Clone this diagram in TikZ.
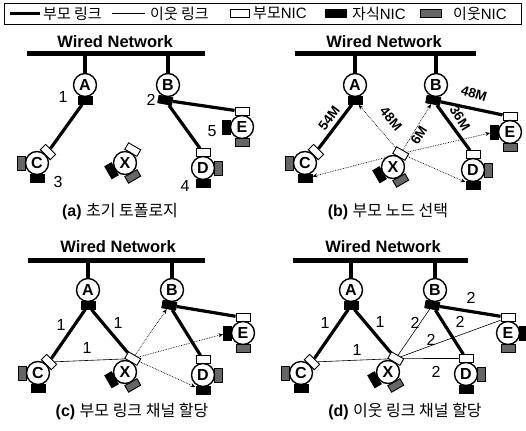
\documentclass[tikz,border=0pt]{standalone}
\usepackage{fontspec}
\setmainfont{Liberation Sans}
\newfontfamily\kr{Noto Sans CJK KR}
\usetikzlibrary{calc,arrows.meta}
\pgfdeclarelayer{bg}
\pgfsetlayers{bg,main}
\tikzset{
 nd/.style={circle,draw,line width=1.4pt,fill=white,minimum size=23pt,inner sep=0pt,font=\bfseries\fontsize{16}{16}\selectfont},
 nicw/.style={rectangle,draw,line width=0.9pt,fill=white,minimum width=14pt,minimum height=7.5pt,inner sep=0pt},
 nicb/.style={nicw,fill=black},
 nicg/.style={nicw,fill=black!60},
 bus/.style={line width=5pt},
 stem/.style={line width=3.5pt},
 plink/.style={line width=3.2pt},
 nlink/.style={line width=0.6pt},
 darr/.style={densely dotted,line width=0.7pt,-{Stealth[length=5pt,width=4pt]}},
 ttl/.style={font=\bfseries\fontsize{16.5}{16.5}\selectfont},
 num/.style={font=\fontsize{16}{16}\selectfont,inner sep=0pt},
 rate/.style={font=\bfseries\fontsize{13.5}{13.5}\selectfont,inner sep=0pt},
 captxt/.style={font=\fontsize{16}{16}\selectfont},
 leg/.style={anchor=west,font=\kr\fontsize{15}{15}\selectfont,inner sep=0pt},
}
\newcommand\nic[4]{\node[#4,rotate=#3-90] (#1) at ($(#2)+(#3:15.5pt)$) {};}
\newcommand\netnode[7]{%
 \coordinate (#1c) at (#2,#3);
 \nic{#1p}{#1c}{#5}{nicw}
 \nic{#1k}{#1c}{#6}{nicb}
 \nic{#1n}{#1c}{#7}{nicg}
 \node[nd] (#1) at (#1c) {#4};}
\newcommand\apnode[5]{%
 \coordinate (#1c) at (#2,#3);
 \nic{#1k}{#1c}{#5}{nicb}
 \node[nd] (#1) at (#1c) {#4};}
\begin{document}
\begin{tikzpicture}[x=1pt,y=-1pt]
\path[use as bounding box] (0,0) rectangle (526,430);
% legend
\draw[line width=0.9pt] (4,3) rectangle (521,24);
\coordinate (lg1a) at (10,13.5); \coordinate (lg1b) at (40,13.5);
\draw[plink] (lg1a) -- (lg1b);
\node[leg] (lgt1) at (43,13.5) {부모 링크};
\coordinate (lg2a) at (112,13.5); \coordinate (lg2b) at (145,13.5);
\draw[line width=1pt] (lg2a) -- (lg2b);
\node[leg] (lgt2) at (150,13.5) {이웃 링크};
\node[nicw,minimum width=19pt] (lgw) at (240,13.5) {};
\node[leg] (lgt3) at (253,13.5) {부모\rmfamily NIC};
\node[nicb,minimum width=21pt] (lgb) at (336,13.5) {};
\node[leg] (lgt4) at (352,13.5) {자식\rmfamily NIC};
\node[nicg,minimum width=21pt] (lgg) at (431,13.5) {};
\node[leg] (lgt5) at (453,13.5) {이웃\rmfamily NIC};

% ---------- panel a
\coordinate (aL) at (27,54); \coordinate (aR) at (205,54);
\node[ttl] (aT) at (115,42) {Wired Network};
\apnode{aA}{85}{85}{A}{-90}
\apnode{aB}{168}{85}{B}{-100}
\netnode{aC}{37}{163}{C}{45}{-90}{180}
\netnode{aX}{125}{163}{X}{60}{210}{-60}
\netnode{aD}{203}{168}{D}{90}{-90}{0}
\netnode{aE}{242}{127}{E}{90}{180}{-90}
\node[num] (a1) at (63,97) {1};
\node[num] (a2) at (151,100) {2};
\node[num] (a3) at (58,182) {3};
\node[num] (a4) at (185,186) {4};
\node[num] (a5) at (212,131) {5};
\node[captxt] (acap) at (120,212) {\bfseries (a) \mdseries\kr 초기 토폴로지};

% ---------- panel b
\coordinate (bL) at (295,54); \coordinate (bR) at (476,54);
\node[ttl] (bT) at (384,42) {Wired Network};
\apnode{bA}{355}{85}{A}{-90}
\apnode{bB}{436}{85}{B}{-100}
\netnode{bC}{305}{163}{C}{45}{-90}{180}
\netnode{bX}{393}{167}{X}{60}{210}{-60}
\netnode{bD}{473}{170}{D}{90}{-90}{0}
\netnode{bE}{510}{132}{E}{90}{180}{-90}
\node[rate,rotate=53] (b54) at (329,118) {54M};
\node[rate,rotate=-50] (b48a) at (391,119) {48M};
\node[rate,rotate=58] (b6) at (419,135) {6M};
\node[rate,rotate=-58] (b36) at (460,118) {36M};
\node[rate,rotate=-17] (b48b) at (474,94) {48M};
\node[captxt] (bcap) at (388,212) {\bfseries (b) \mdseries\kr 부모 노드 선택};

% ---------- panel c
\coordinate (cL) at (28,260); \coordinate (cR) at (205,260);
\node[ttl] (cT) at (118,247) {Wired Network};
\apnode{cA}{88}{290}{A}{-90}
\apnode{cB}{172}{290}{B}{-100}
\netnode{cC}{38}{373}{C}{45}{-90}{180}
\netnode{cX}{125}{372}{X}{60}{210}{-60}
\netnode{cD}{203}{375}{D}{90}{-90}{0}
\netnode{cE}{243}{333}{E}{90}{180}{-90}
\node[num] (c1a) at (61,325) {1};
\node[num] (c1b) at (118,323) {1};
\node[num] (c1c) at (87,348) {1};
\node[captxt] (ccap) at (132,411) {\bfseries (c) \mdseries\kr 부모 링크 채널 할당};

% ---------- panel d
\coordinate (dL) at (293,260); \coordinate (dR) at (468,260);
\node[ttl] (dT) at (383,247) {Wired Network};
\apnode{dA}{351}{290}{A}{-90}
\apnode{dB}{435}{290}{B}{-100}
\netnode{dC}{301}{373}{C}{45}{-90}{180}
\netnode{dX}{388}{372}{X}{60}{210}{-60}
\netnode{dD}{466}{374}{D}{90}{-90}{0}
\netnode{dE}{508}{333}{E}{90}{0}{-90}
\node[num] (d1a) at (325,323) {1};
\node[num] (d1b) at (380,322) {1};
\node[num] (d1c) at (357,350) {1};
\node[num] (d2a) at (415,323) {2};
\node[num] (d2b) at (431,340) {2};
\node[num] (d2c) at (436,372) {2};
\node[num] (d2d) at (460,322) {2};
\node[num] (d2e) at (471,298) {2};
\node[captxt] (dcap) at (405,411) {\bfseries (d) \mdseries\kr 이웃 링크 채널 할당};

\begin{pgfonlayer}{bg}
 \foreach \p in {a,b,c,d}{
  \draw[bus] (\p L) -- (\p R);
  \draw[stem] (\p A) -- (\p A |- \p L);
  \draw[stem] (\p B) -- (\p B |- \p L);
  \draw[plink] (\p Bk) -- (\p Dp);
  \draw[plink] (\p Bk) -- (\p Ep);
  \draw[plink] (\p Ak) -- (\p Cp);
 }
 % b
 \draw[darr] (bXp) -- (bAk);
 \draw[darr] (bXp) -- (bBk);
 \draw[darr] (bXp) -- (bEk);
 \draw[darr] (bXp) -- (bDk);
 \draw[darr] (bXp) -- (bCk);
 % c
 \draw[plink] (cAk) -- (cXp);
 \draw[nlink] (cCp) -- (cXp);
 \draw[darr] (cXp) -- (cBk);
 \draw[darr] (cXp) -- (cEk);
 \draw[darr] (cXp) -- (cDk);
 % d
 \draw[plink] (dAk) -- (dXp);
 \draw[nlink] (dCp) -- (dXp);
 \draw[nlink] (dXp) -- (dBk);
 \draw[nlink] (dXp) -- (dEp);
 \draw[nlink] (dXp) -- (dDp);
\end{pgfonlayer}
\end{tikzpicture}
\end{document}
